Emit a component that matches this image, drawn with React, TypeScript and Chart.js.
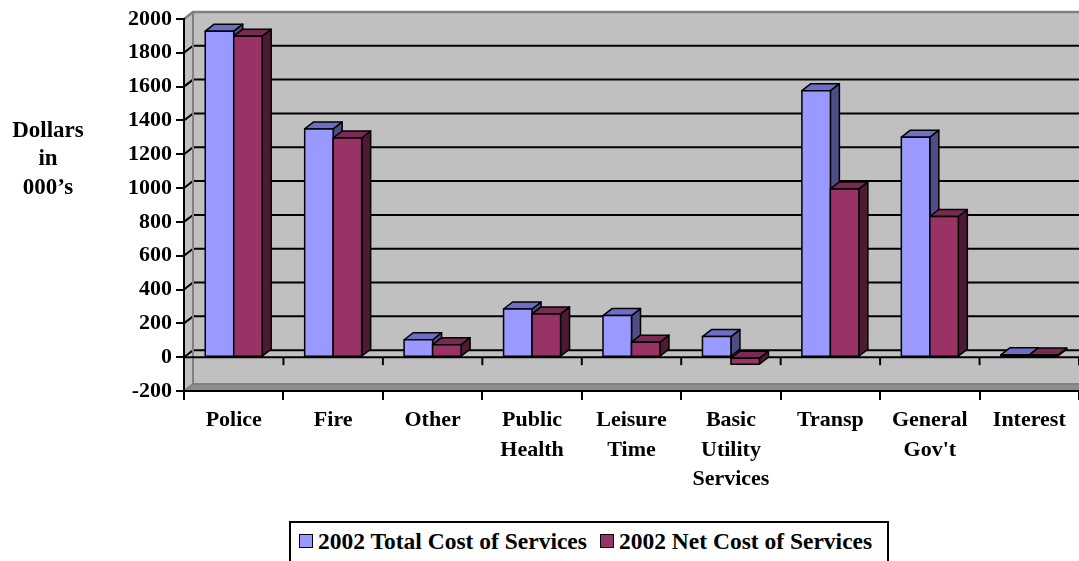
import React, { useEffect, useRef } from 'react';
import { Chart, registerables } from 'chart.js';

Chart.register(...registerables);

// ---- data ----
const categories: string[][] = [
  ['Police'],
  ['Fire'],
  ['Other'],
  ['Public', 'Health'],
  ['Leisure', 'Time'],
  ['Basic', 'Utility', 'Services'],
  ['Transp'],
  ['General', "Gov't"],
  ['Interest'],
];
const totalCost = [1928, 1350, 103, 285, 246, 122, 1576, 1301, 14];
const netCost = [1898, 1296, 74, 256, 89, -42, 995, 832, 13];
const seriesNames = ['2002 Total Cost of Services', '2002 Net Cost of Services'];
const yMin = -200;
const yMax = 2000;
const yStep = 200;
const yTitleLines = ['Dollars', 'in', '000\u2019s'];

// ---- styles ----
const FONT = '"Liberation Serif", "Times New Roman", serif';
const DX = 9;
const DY = -7;
const WALL = '#C0C0C0';
const FLOOR = '#8C8C8C';
const EDGE = '#808080';
const faces = [
  { front: '#9999FF', top: '#6E6EC6', side: '#4E4E84' },
  { front: '#993366', top: '#7A2A52', side: '#4C1A33' },
];

function poly(ctx: CanvasRenderingContext2D, pts: number[][], fill?: string, stroke?: string, lw = 1.5) {
  ctx.beginPath();
  ctx.moveTo(pts[0][0], pts[0][1]);
  for (let i = 1; i < pts.length; i++) ctx.lineTo(pts[i][0], pts[i][1]);
  ctx.closePath();
  if (fill) {
    ctx.fillStyle = fill;
    ctx.fill();
  }
  if (stroke) {
    ctx.strokeStyle = stroke;
    ctx.lineWidth = lw;
    ctx.stroke();
  }
}

const depthPlugin = {
  id: 'depth3d',
  beforeDraw(chart: any) {
    const { ctx, chartArea } = chart;
    const { left: L, top: T, bottom: B } = chartArea;
    const y = chart.scales.y;
    const RR = chart.width + 30;
    ctx.save();
    poly(ctx, [[L + DX, T + DY], [RR, T + DY], [RR, B + DY], [L + DX, B + DY]], WALL);
    poly(ctx, [[L, T], [L + DX, T + DY], [L + DX, B + DY], [L, B]], WALL);
    poly(ctx, [[L, B], [L + DX, B + DY], [RR, B + DY], [RR, B]], FLOOR);
    ctx.strokeStyle = '#000';
    ctx.lineWidth = 2;
    for (let v = yMin + yStep; v < yMax; v += yStep) {
      const py = y.getPixelForValue(v);
      ctx.beginPath();
      ctx.moveTo(L, py);
      ctx.lineTo(L + DX, py + DY);
      ctx.lineTo(RR, py + DY);
      ctx.stroke();
    }
    ctx.strokeStyle = EDGE;
    ctx.lineWidth = 2.5;
    ctx.beginPath();
    ctx.moveTo(L, T);
    ctx.lineTo(L + DX, T + DY);
    ctx.lineTo(RR, T + DY);
    ctx.stroke();
    ctx.lineWidth = 2;
    ctx.beginPath();
    ctx.moveTo(L + DX, T + DY);
    ctx.lineTo(L + DX, B + DY);
    ctx.lineTo(RR, B + DY);
    ctx.stroke();
    ctx.beginPath();
    ctx.moveTo(L, B);
    ctx.lineTo(L + DX, B + DY);
    ctx.stroke();
    ctx.restore();
  },
  beforeDatasetDraw() {
    return false;
  },
  afterDatasetsDraw(chart: any) {
    const { ctx, chartArea } = chart;
    const { left: L, right: R } = chartArea;
    const y0 = chart.scales.y.getPixelForValue(0);
    const xs = chart.scales.x;
    const n = categories.length;
    const half = (xs.getPixelForValue(1) - xs.getPixelForValue(0)) / 2;
    ctx.save();
    ctx.strokeStyle = '#000';
    ctx.lineWidth = 2;
    ctx.beginPath();
    ctx.moveTo(L, y0);
    ctx.lineTo(R, y0);
    ctx.stroke();
    for (let i = 0; i <= n; i++) {
      const px = i < n ? xs.getPixelForValue(i) - half : xs.getPixelForValue(n - 1) + half;
      ctx.beginPath();
      ctx.moveTo(px, y0);
      ctx.lineTo(px, y0 + 8);
      ctx.stroke();
    }
    ctx.lineJoin = 'round';
    const metas = [chart.getDatasetMeta(0), chart.getDatasetMeta(1)];
    for (let i = 0; i < n; i++) {
      metas.forEach((meta: any, d: number) => {
        const el = meta.data[i];
        const { x: cx, y: vy, base, width } = el.getProps(['x', 'y', 'base', 'width'], true);
        const l = cx - width / 2;
        const r = cx + width / 2;
        const t = Math.min(vy, base);
        const b = Math.max(vy, base);
        const f = faces[d];
        poly(ctx, [[r, t], [r + DX, t + DY], [r + DX, b + DY], [r, b]], f.side, '#000', 1.5);
        poly(ctx, [[l, t], [l + DX, t + DY], [r + DX, t + DY], [r, t]], f.top, '#000', 1.5);
        poly(ctx, [[l, t], [r, t], [r, b], [l, b]], f.front, '#000', 1.5);
      });
    }
    ctx.restore();
  },
  afterDraw(chart: any) {
    const { ctx } = chart;
    ctx.save();
    ctx.font = `bold 23px ${FONT}`;
    ctx.fillStyle = '#000';
    ctx.textAlign = 'center';
    ctx.textBaseline = 'middle';
    yTitleLines.forEach((s, i) => ctx.fillText(s, 48, 131 + i * 28.5));
    ctx.restore();
  },
};

export default function App() {
  const ref = useRef<HTMLCanvasElement>(null);
  useEffect(() => {
    document.body.style.margin = '0';
    const tickFont = { family: FONT, size: 22, weight: 'bold' as const, lineHeight: 1.36 };
    const chart = new Chart(ref.current as HTMLCanvasElement, {
      type: 'bar',
      data: {
        labels: categories,
        datasets: [
          { label: seriesNames[0], data: totalCost, backgroundColor: faces[0].front, categoryPercentage: 0.573, barPercentage: 1 },
          { label: seriesNames[1], data: netCost, backgroundColor: faces[1].front, categoryPercentage: 0.573, barPercentage: 1 },
        ],
      },
      options: {
        responsive: false,
        devicePixelRatio: 1,
        animation: false,
        layout: { padding: { top: 16, left: 0, right: 0, bottom: 0 } },
        plugins: { legend: { display: false }, tooltip: { enabled: false } },
        scales: {
          x: {
            grid: { offset: true, drawOnChartArea: false, drawTicks: true, tickLength: 9, color: '#000', lineWidth: 2 },
            border: { display: true, color: '#000', width: 2 },
            ticks: { color: '#000', font: tickFont, padding: 5, maxRotation: 0, autoSkip: false },
            afterFit: (s: any) => {
              s.height = 170;
            },
          },
          y: {
            min: yMin,
            max: yMax,
            grid: { drawOnChartArea: false, drawTicks: true, tickLength: 8, color: '#000', lineWidth: 2 },
            border: { display: true, color: '#000', width: 2 },
            ticks: { stepSize: yStep, color: '#000', font: tickFont, padding: 4, callback: (v: any) => String(v) },
            afterFit: (s: any) => {
              s.width = 184;
            },
          },
        },
      },
      plugins: [depthPlugin],
    });
    return () => chart.destroy();
  }, []);

  const sq = (c: string) => (
    <span style={{ display: 'inline-block', width: 14, height: 14, background: c, border: '1.5px solid #000', boxSizing: 'border-box', marginRight: 5, flex: 'none' }} />
  );

  return (
    <div style={{ position: 'relative', width: 1079, height: 561, overflow: 'hidden', background: '#fff' }}>
      <canvas ref={ref} width={1079} height={561} style={{ display: 'block', width: 1079, height: 561 }} />
      <div
        style={{
          position: 'absolute',
          left: 289,
          top: 521,
          width: 600,
          height: 70,
          border: '2px solid #000',
          boxSizing: 'border-box',
          background: '#fff',
          display: 'flex',
          alignItems: 'center',
          paddingLeft: 8,
          paddingBottom: 30,
          font: `bold 23.5px ${FONT}`,
          color: '#000',
          whiteSpace: 'nowrap',
        }}
      >
        <span style={{ display: 'flex', alignItems: 'center', marginRight: 13 }}>
          {sq(faces[0].front)}
          {seriesNames[0]}
        </span>
        <span style={{ display: 'flex', alignItems: 'center' }}>
          {sq(faces[1].front)}
          {seriesNames[1]}
        </span>
      </div>
    </div>
  );
}
